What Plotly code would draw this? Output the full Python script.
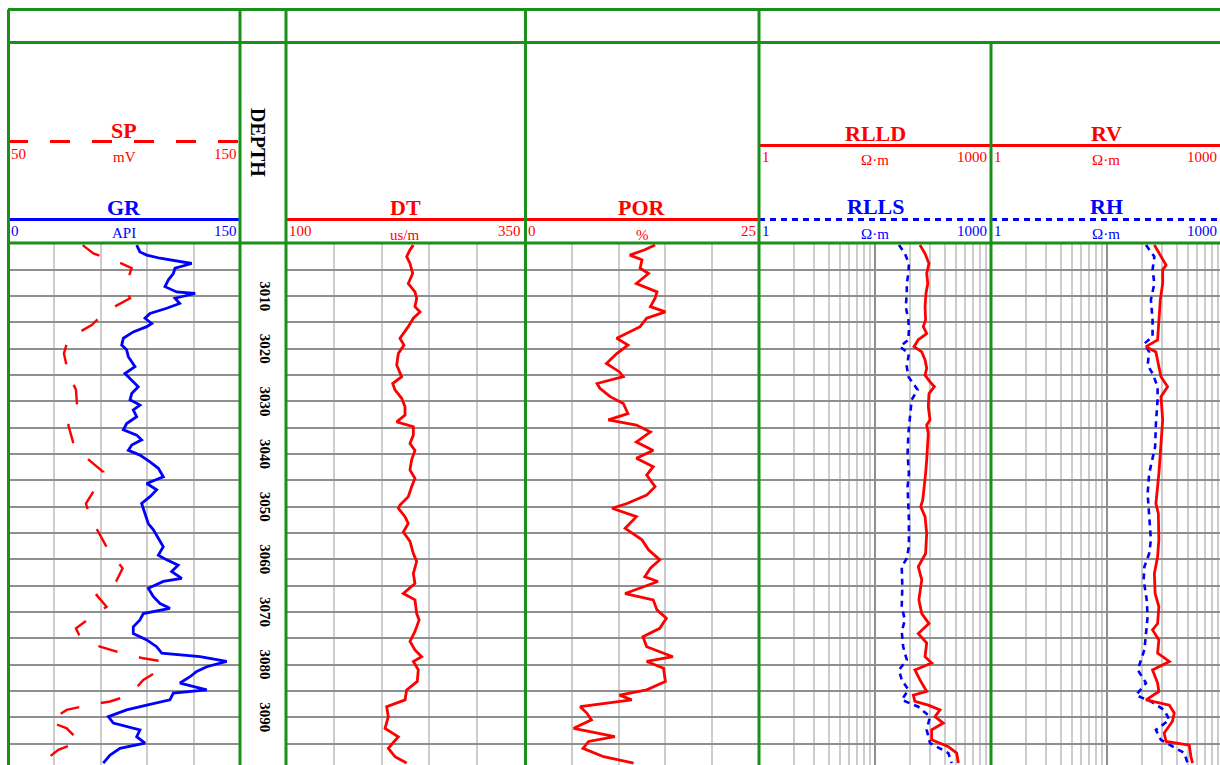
import plotly.graph_objects as go

W, H = 1220, 765
def px(x): return x / W
def py(y): return 1 - y / H

# ---------------- data ----------------
gr_depth = [3000.3,3001.6,3002.2,3002.8,3003.8,3004.7,3005.7,3006.9,3008.2,3009.2,3009.5,3010.4,3011.4,3012.3,3013.3,3014.2,3015.2,3015.8,3016.8,3018.0,3019.3,3020.2,3021.5,3023.4,3024.7,3025.9,3027.2,3028.5,3029.7,3030.7,3031.6,3032.9,3034.2,3035.4,3036.4,3037.3,3038.3,3039.3,3040.2,3041.5,3042.7,3044.3,3045.6,3046.8,3048.1,3049.4,3051.3,3053.2,3054.4,3056.0,3057.6,3059.2,3060.1,3061.1,3062.3,3063.6,3064.2,3065.5,3067.1,3068.4,3069.3,3070.3,3071.5,3072.8,3074.1,3075.3,3076.6,3077.8,3078.5,3079.4,3080.4,3081.3,3082.3,3083.5,3084.8,3085.4,3086.7,3087.7,3088.6,3089.9,3091.1,3092.4,3093.7,3094.9,3095.9,3097.2,3098.7]
gr_val = [83.2,85.3,89.7,98.3,118.8,108,106.9,103.7,101.5,109,121,108,111,102.6,91.8,88.6,92.9,89.7,81,74.6,73.5,76.7,77.8,82.1,75.6,80,84.2,80,78.9,85.3,81,83.2,76.7,74.6,83.2,86.4,80,77.8,85.3,91.8,97.2,100.4,89.7,96.1,91.8,86.4,88.6,90.7,94,97.2,100.4,97.2,102.6,110,105.8,112.3,100.4,90.7,94,98.3,104.7,87.5,85.3,81,81,89.7,96.1,99.4,124.1,141.4,128.5,122,117.7,111.2,128.5,106.9,104.7,89.7,76.7,64.9,68.1,85.3,83.2,88.6,72.4,66,61.6]

sp_depth = [3000.3,3001.9,3003.5,3004.7,3008.5,3010.4,3013.0,3015.5,3018.0,3020.9,3024.7,3027.8,3031.6,3034.5,3038.3,3040.5,3043.4,3045.9,3049.4,3051.9,3055.4,3058.2,3061.7,3064.2,3066.8,3069.0,3071.5,3073.1,3074.4,3076.6,3077.8,3078.8,3079.4,3081.0,3082.9,3085.8,3087.0,3087.7,3088.6,3090.8,3092.1,3094.6,3096.2,3098.4]
sp_val = [82.2,86.8,97.5,103.3,100.4,102.6,91.8,86.1,76,74.1,76,79.3,79.9,76,78.4,83.2,91.1,88.5,83.6,85.3,89.7,93.2,99.4,96.6,88.2,92.5,84.2,79.3,80.7,89.7,99,108.3,117,115.5,108.3,102.6,94,84.6,75.3,67.8,75.3,81,71.7,65.2]

dt_depth = [3000.3,3001.2,3002.5,3003.8,3005.7,3007.6,3009.2,3010.4,3012.0,3013.0,3014.2,3015.8,3018.0,3019.3,3020.9,3023.1,3025.3,3026.6,3027.8,3029.4,3031.0,3032.6,3033.9,3034.8,3036.4,3038.0,3039.3,3041.1,3043.0,3044.6,3046.2,3048.1,3049.7,3050.3,3051.9,3053.2,3054.8,3056.6,3058.9,3060.4,3062.7,3064.6,3066.5,3067.7,3070.3,3071.5,3073.7,3075.6,3077.2,3078.5,3079.4,3081.0,3083.2,3084.8,3086.7,3088.0,3089.9,3092.1,3093.7,3095.9,3097.5,3098.7]
dt_val = [233.2,229.7,226.2,229.7,232.5,227.9,234.9,236.7,234.9,240.2,233.2,227.9,219.2,223.4,217.5,215.8,221,211.6,214,221,224.5,224.5,215.8,233.2,233.2,229.7,234.9,231.4,229.7,234.9,231.4,227.9,219.2,217.5,224.5,227.9,222.7,229.7,233.2,236.7,233.2,234.9,222.7,234.9,236.7,239.3,234.9,229.7,234.9,241.9,233.2,238.4,237.3,226.2,224.5,205.3,207,203.6,217.5,207,214,226.2]

por_depth = [3000.3,3001.2,3002.2,3003.1,3004.7,3005.7,3007.6,3009.2,3010.4,3012.0,3013.0,3014.2,3015.8,3017.1,3018.0,3019.3,3020.9,3022.8,3024.4,3025.3,3026.6,3027.5,3029.1,3030.4,3032.3,3033.5,3034.5,3035.8,3037.7,3039.3,3040.8,3042.4,3044.0,3046.2,3047.8,3049.4,3050.3,3051.9,3054.1,3056.3,3058.2,3060.1,3061.7,3063.3,3064.2,3066.5,3067.7,3069.6,3071.2,3073.1,3074.7,3076.6,3078.5,3079.4,3080.7,3083.2,3084.8,3085.8,3086.7,3088.0,3089.2,3090.5,3092.1,3093.7,3094.6,3095.9,3097.5,3098.7]
por_val = [13.9,12.8,11.2,12.5,12.3,13.2,11.9,14.1,13.9,13.4,15,13,12.3,10.9,9.8,11,9.8,8.7,10.1,10.5,7.7,8,9.1,10.5,11,8.9,11.9,13.4,11.9,13.7,11.9,13.7,13,13.9,13,10.9,9.3,11.9,10.7,12.5,13.2,14.4,13.4,12.8,14.2,10.7,13.7,14.1,15.1,14.4,12.6,13,15.8,13,14.8,15,13,10.1,11.4,5.9,6.6,7.1,5.2,9.6,6.8,6.2,8.4,11.6]

rlld_depth = [3000.3,3001.9,3003.8,3005.7,3007.6,3009.5,3012.0,3014.5,3015.8,3017.1,3018.3,3019.6,3020.6,3022.1,3023.7,3025.0,3026.3,3027.2,3028.5,3031.0,3033.5,3034.5,3036.1,3038.6,3041.1,3043.7,3046.2,3048.7,3050.0,3051.9,3055.1,3058.9,3061.4,3063.9,3067.7,3070.3,3072.2,3074.1,3075.9,3078.5,3079.7,3081.0,3082.9,3085.1,3085.8,3087.0,3087.7,3088.6,3089.9,3091.1,3092.4,3094.3,3095.6,3096.8,3098.7]
rlld_val = [24.4,27,29.2,27.9,28.5,27.5,27,27.3,26.1,27.9,23.6,21.7,25.3,27,27.9,27,29.8,32.5,29.2,28.8,29.8,27.9,28.8,28.5,27.9,27.3,26.6,25.8,24.8,27,27.9,27.3,23.6,25.3,23.9,25.3,29.2,23.6,27.9,27,30.8,22.1,24.4,27.9,21.4,22.1,28.8,36.3,32.9,38.8,30.8,30.8,42.9,50.6,52.3]

rlls_depth = [3000.3,3001.9,3003.8,3005.7,3007.6,3009.5,3012.0,3014.5,3016.4,3018.3,3019.6,3020.9,3023.4,3025.3,3026.6,3027.8,3029.7,3033.5,3036.1,3039.9,3043.7,3046.2,3050.0,3052.5,3057.6,3059.8,3061.4,3065.2,3069.0,3071.5,3073.7,3076.6,3079.1,3081.0,3082.9,3084.8,3086.7,3088.0,3089.9,3092.4,3094.9,3096.8,3098.7]
rlls_val = [16.1,18.1,19.6,19.4,18.8,18.8,18.4,19.4,19.6,19.4,16.4,19.6,18.8,19.4,21.4,23.3,20.7,20,19.4,19.1,19.6,19.1,19.4,19.6,19.6,18.8,17,17.2,17,18.1,17,17.5,18.8,16.1,17,19.4,17,23.6,29.8,27.9,29.8,42.9,45.8]

rv_depth = [3000.3,3002.5,3004.1,3005.0,3007.6,3010.7,3015.2,3018.3,3019.6,3020.6,3023.4,3025.3,3027.2,3029.1,3033.5,3038.6,3043.7,3049.4,3051.3,3056.3,3059.5,3062.7,3066.5,3069.0,3072.2,3073.4,3075.3,3077.8,3079.4,3081.0,3083.5,3085.1,3086.7,3087.7,3089.2,3090.8,3093.0,3094.6,3095.3,3097.5,3098.7]
rv_val = [25.6,29.2,32.3,30.2,30.2,28.8,28,27.3,21.7,26.4,28,29.2,33.3,29.2,30.2,29.2,28,26.4,27.7,28,27.3,25.6,26,28,27.3,24.7,28,27.3,34.5,24.7,27.3,28,21.7,34.5,38,36.6,31.1,32.3,51.2,52.9,54.7]

rh_depth = [3000.3,3002.5,3005.0,3007.6,3010.7,3014.5,3017.7,3019.0,3020.6,3023.1,3024.7,3027.2,3029.7,3034.2,3038.6,3043.7,3047.5,3051.3,3056.3,3058.9,3061.4,3063.9,3067.7,3070.9,3074.1,3077.2,3081.0,3083.5,3085.8,3087.0,3088.6,3090.5,3092.4,3094.3,3096.8,3098.7]
rh_val = [21.7,25.6,24.7,25.6,23.9,24.7,24.7,21,23.1,22.4,24.7,27.3,27.3,26.4,26,23.1,22.4,23.1,23.9,23.1,21,20.7,22,22.4,21.7,21,18.4,21.7,17.8,23.9,31.1,34.5,26.4,29.2,46.4,49.5]

depth_labels = [3010, 3020, 3030, 3040, 3050, 3060, 3070, 3080, 3090]

# ---------------- style ----------------
RED, BLUE, GREEN = "#ff0000", "#0000ff", "#1a8f1a"
GRID_H, GRID_V = "#8f8f8f", "#cccccc"
FONT = "Liberation Serif"

fig = go.Figure()
def add(x, y, xa, color, dash=None, width=2.6):
    fig.add_trace(go.Scatter(x=x, y=y, xaxis=xa, yaxis="y", mode="lines",
                             line=dict(color=color, width=width, dash=dash),
                             hoverinfo="skip", showlegend=False))

add(gr_val, gr_depth, "x", BLUE, width=2.8)
add(sp_val, sp_depth, "x2", RED, dash="20px,22px", width=2.4)
add(dt_val, dt_depth, "x3", RED, width=2.8)
add(por_val, por_depth, "x4", RED, width=2.8)
add(rlls_val, rlls_depth, "x5", BLUE, dash="6px,5px", width=2.6)
add(rlld_val, rlld_depth, "x5", RED, width=2.8)
add(rh_val, rh_depth, "x6", BLUE, dash="6px,5px", width=2.6)
add(rv_val, rv_depth, "x6", RED, width=2.8)

top_data = 243.5
lin_ax = dict(showticklabels=False, ticks="", zeroline=False, showline=False,
              showgrid=True, gridcolor=GRID_V, gridwidth=1.5, fixedrange=True)
log_ax = dict(type="log", showticklabels=False, ticks="", zeroline=False, showline=False,
              showgrid=True, gridcolor=GRID_H, gridwidth=1.5, dtick=1, fixedrange=True,
              minor=dict(dtick="D1", showgrid=True, gridcolor=GRID_V, gridwidth=1.5, ticks=""))

fig.update_layout(
    width=W, height=H, margin=dict(l=0, r=0, t=0, b=0),
    paper_bgcolor="white", plot_bgcolor="white", showlegend=False,
    font=dict(family=FONT),
    xaxis=dict(domain=[px(8), px(240)], range=[0, 150], dtick=30, tick0=0, **lin_ax),
    xaxis2=dict(domain=[px(8), px(240)], range=[50, 150], overlaying="x", visible=False),
    xaxis3=dict(domain=[px(286), px(525)], range=[100, 350], dtick=50, tick0=100, **lin_ax),
    xaxis4=dict(domain=[px(525), px(759)], range=[0, 25], dtick=5, tick0=0, **lin_ax),
    xaxis5=dict(domain=[px(759), px(991)], range=[0, 2], **log_ax),
    xaxis6=dict(domain=[px(991), 1.0], range=[0, (W - 991) / 116.0], **log_ax),
    yaxis=dict(domain=[0, py(top_data)], range=[3000 + (H - top_data) / 5.264, 3000],
               dtick=5, tick0=3000, showticklabels=False, ticks="", zeroline=False,
               showline=False, showgrid=True, gridcolor=GRID_H, gridwidth=1.5, fixedrange=True),
)

shapes = []
# dark 50 m line
for xa in ["x", "x3", "x4", "x5", "x6"]:
    shapes.append(dict(type="line", xref=f"{xa} domain", yref="y", x0=0, x1=1, y0=3050, y1=3050,
                       line=dict(color="#333333", width=1.5), layer="below"))

def gline(x0, y0, x1, y1, color=GREEN, width=3, dash=None):
    shapes.append(dict(type="line", xref="paper", yref="paper", x0=px(x0), x1=px(x1),
                       y0=py(y0), y1=py(y1), line=dict(color=color, width=width, dash=dash),
                       layer="above"))

# header legend lines
gline(8, 141.5, 240, 141.5, RED, 3, "20px,22px")
gline(8, 219.5, 240, 219.5, BLUE, 3)
gline(286, 219.5, 525, 219.5, RED, 3)
gline(525, 219.5, 759, 219.5, RED, 3)
gline(759, 145.5, 991, 145.5, RED, 3)
gline(759, 219.5, 991, 219.5, BLUE, 3, "6px,5px")
gline(991, 145.5, W, 145.5, RED, 3)
gline(991, 219.5, W, 219.5, BLUE, 3, "6px,5px")

# green frame
for yy in [9.5, 42.5, 243]:
    gline(8, yy, W, yy)
for xx in [8.5, 240, 286, 525.5, 759]:
    gline(xx, 9.5, xx, H)
gline(991, 42.5, 991, H)
fig.update_layout(shapes=shapes)

ann = []
def txt(x, y, s, color, size, bold=False, anchor="center", angle=0):
    ann.append(dict(x=px(x), y=py(y), xref="paper", yref="paper", text=f"<b>{s}</b>" if bold else s,
                    showarrow=False, xanchor=anchor, yanchor="middle", textangle=angle,
                    font=dict(family=FONT, size=size, color=color)))

NUM, UNIT, TITLE = 15, 15, 22
# GR / SP
txt(124, 130, "SP", RED, TITLE, True)
txt(9, 154, "50", RED, NUM, anchor="left")
txt(124, 157, "mV", RED, UNIT)
txt(239, 154, "150", RED, NUM, anchor="right")
txt(124, 208, "GR", BLUE, TITLE, True)
txt(9, 231, "0", BLUE, NUM, anchor="left")
txt(124, 233, "API", BLUE, UNIT)
txt(239, 231, "150", BLUE, NUM, anchor="right")
# DEPTH
txt(258, 142, "DEPTH", "black", 20, True, angle=90)
# DT
txt(405.5, 208, "DT", RED, TITLE, True)
txt(287, 231, "100", RED, NUM, anchor="left")
txt(405, 235, "us/m", RED, UNIT)
txt(523, 231, "350", RED, NUM, anchor="right")
# POR
txt(642, 208, "POR", RED, TITLE, True)
txt(526, 231, "0", RED, NUM, anchor="left")
txt(642, 235, "%", RED, UNIT)
txt(758, 231, "25", RED, NUM, anchor="right")
# RLLD / RLLS
txt(875, 133, "RLLD", RED, TITLE, True)
txt(760, 157, "1", RED, NUM, anchor="left")
txt(875, 160, "Ω·m", RED, UNIT)
txt(989, 157, "1000", RED, NUM, anchor="right")
txt(875, 207, "RLLS", BLUE, TITLE, True)
txt(760, 231, "1", BLUE, NUM, anchor="left")
txt(875, 234, "Ω·m", BLUE, UNIT)
txt(989, 231, "1000", BLUE, NUM, anchor="right")
# RV / RH
txt(1106, 133, "RV", RED, TITLE, True)
txt(992, 157, "1", RED, NUM, anchor="left")
txt(1106, 160, "Ω·m", RED, UNIT)
txt(1219, 157, "1000", RED, NUM, anchor="right")
txt(1106, 207, "RH", BLUE, TITLE, True)
txt(992, 231, "1", BLUE, NUM, anchor="left")
txt(1106, 234, "Ω·m", BLUE, UNIT)
txt(1219, 231, "1000", BLUE, NUM, anchor="right")

for d in depth_labels:
    ann.append(dict(x=px(265), y=d, xref="paper", yref="y", text=f"<b>{d}</b>", showarrow=False,
                    xanchor="center", yanchor="middle", textangle=90,
                    font=dict(family=FONT, size=15, color="black")))

fig.update_layout(annotations=ann)
fig.write_html("out.html", config={"displayModeBar": False})
